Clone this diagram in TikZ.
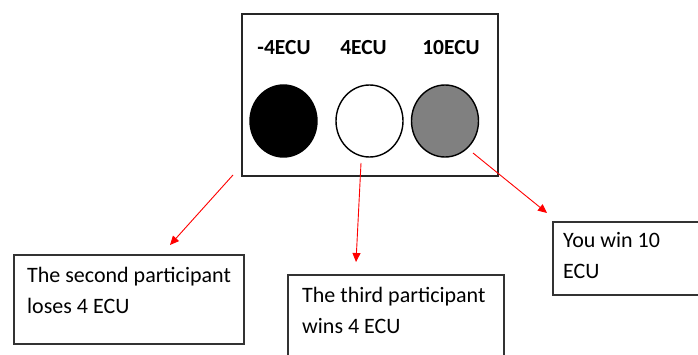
\documentclass[tikz,border=0pt]{standalone}
\usepackage{fontspec}
\setmainfont{Carlito}
\usetikzlibrary{arrows.meta,shapes.geometric}
\definecolor{discgray}{RGB}{128,128,128}
\begin{document}
\begin{tikzpicture}[x=1pt,y=-1pt,
  panel/.style={rectangle, draw=black!85, line width=2.2pt, inner sep=0, anchor=north west},
  outbox/.style={rectangle, draw=black!80, line width=1.6pt, inner sep=0, anchor=north west},
  disc/.style={ellipse, draw=black, line width=1.4pt, minimum width=67pt, minimum height=72pt, inner sep=0},
  lab/.style={font=\fontsize{21.5}{25}\selectfont\bfseries, inner sep=0},
  txt/.style={font=\fontsize{22}{31}\selectfont, align=left, inner sep=0, anchor=base west},
  redarrow/.style={draw=red, line width=0.9pt, -{Triangle[length=9pt,width=8pt]}}]
\clip (0,0) rectangle (698,355);
\fill[white] (0,0) rectangle (698,355);
% top panel
\node[panel, minimum width=256pt, minimum height=162pt] (panel) at (241,13) {};
\node[lab] (l1) at (284,48) {-4ECU};
\node[lab] (l2) at (363.5,48) {4ECU};
\node[lab] (l3) at (451,48) {10ECU};
\node[disc, fill=black] (d1) at (283.5,121) {};
\node[disc, fill=white] (d2) at (369.5,121) {};
\node[disc, fill=discgray] (d3) at (445,121) {};
% outcome boxes
\node[outbox, minimum width=230pt, minimum height=89pt] (b1) at (13,254) {};
\node[outbox, minimum width=216pt, minimum height=120pt] (b2) at (287,274) {};
\node[outbox, minimum width=170pt, minimum height=73pt] (b3) at (552,221) {};
\node[txt] (t1) at (27,313) {The second participant\\loses 4 ECU};
\node[txt] (t2) at (302,333) {The third participant\\wins 4 ECU};
\node[txt] (t3) at (563,278) {You win 10\\ECU};
% arrows
\coordinate (a1s) at (233,175);
\coordinate (a1e) at (170,245);
\coordinate (a2s) at (361,163);
\coordinate (a2e) at (356,262);
\coordinate (a3s) at (473,153);
\coordinate (a3e) at (547,213);
\draw[redarrow] (a1s) -- (a1e);
\draw[redarrow] (a2s) -- (a2e);
\draw[redarrow] (a3s) -- (a3e);
\end{tikzpicture}
\end{document}
